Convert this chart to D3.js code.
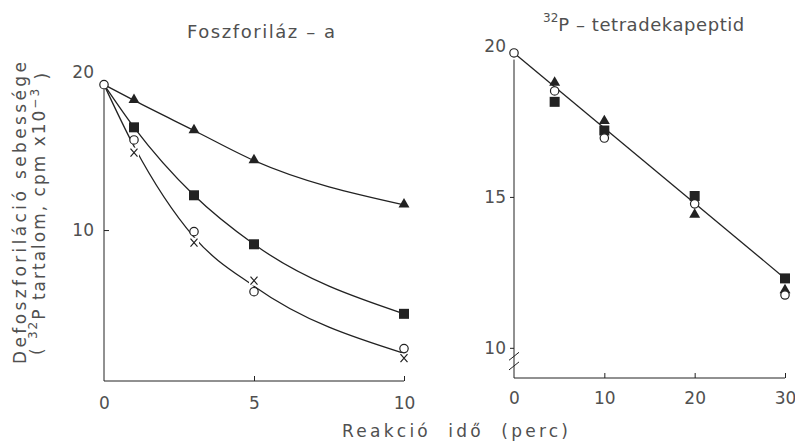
<!DOCTYPE html>
<html>
<head>
<meta charset="utf-8">
<script src="https://cdn.jsdelivr.net/npm/d3@7"></script>
<style>
  html, body { margin: 0; padding: 0; background: #fff; }
  svg { display: block; }
  text { font-family: "DejaVu Sans", "Open Sans", sans-serif; fill: #505050; }
</style>
</head>
<body>
<svg id="chart" width="795" height="443"></svg>
<script>
// Foszforiláz-a panel (perc / cpm x10^-3)
const leftTimes = [1, 3, 5, 10];
const leftStart = 19.2;
const leftTriangle = [18.2, 16.3, 14.4, 11.6];
const leftSquare = [16.5, 12.2, 9.1, 4.7];
const leftCircle = [15.7, 9.9, 6.1, 2.5];
const leftCross = [14.9, 9.2, 6.8, 1.9];
const leftXTicks = [0, 5, 10];
const leftYTicks = [10, 20];

// 32P-tetradekapeptid panel
const rightTimes = [4.5, 10, 20, 30];
const rightStart = 19.77;
const rightTriangle = [18.77, 17.5, 14.4, 11.9];
const rightSquare = [18.15, 17.2, 15.03, 12.3];
const rightCircle = [18.51, 16.95, 14.77, 11.75];
const rightFitTimes = [0, 30];
const rightFitValues = [19.77, 12.3];
const rightXTicks = [0, 10, 20, 30];
const rightYTicks = [10, 15, 20];

const INK = '#222';
const svg = d3.select('#chart');

function drawMarker(g, type, x, y) {
  if (type === 'triangle') {
    g.append('path')
      .attr('d', d3.symbol(d3.symbolTriangle, 52)())
      .attr('transform', `translate(${x},${y - 0.5})`)
      .attr('fill', INK);
  } else if (type === 'square') {
    g.append('rect')
      .attr('x', x - 5).attr('y', y - 5)
      .attr('width', 10).attr('height', 10)
      .attr('fill', INK);
  } else if (type === 'circle') {
    g.append('circle')
      .attr('cx', x).attr('cy', y).attr('r', 4.2)
      .attr('fill', '#fff').attr('stroke', INK).attr('stroke-width', 1.2);
  } else if (type === 'cross') {
    g.append('rect').attr('x', x - 5).attr('y', y - 5).attr('width', 10).attr('height', 10).attr('fill', '#fff');
    g.append('path')
      .attr('d', `M${x - 3.5},${y - 4}L${x + 3.5},${y + 4}M${x + 3.5},${y - 4}L${x - 3.5},${y + 4}`)
      .attr('stroke', INK).attr('stroke-width', 1.2).attr('fill', 'none');
  }
}

function styleAxis(g) {
  g.select('.domain').remove();
  g.selectAll('line').attr('stroke', INK).attr('stroke-width', 1);
  g.selectAll('text').attr('font-size', 17).attr('fill', '#505050').attr('font-family', null);
}

// ---------- left panel ----------
const xL = d3.scaleLinear().domain([0, 10]).range([104, 404]);
const yL = d3.scaleLinear().domain([0.45, 20]).range([381, 72]);
const gL = svg.append('g');

gL.append('line')
  .attr('x1', xL(0)).attr('x2', xL(10)).attr('y1', yL(0.45)).attr('y2', yL(0.45))
  .attr('stroke', INK).attr('stroke-width', 1);
gL.append('line')
  .attr('x1', xL(0)).attr('x2', xL(0)).attr('y1', yL(0.45)).attr('y2', yL(18.9))
  .attr('stroke', INK).attr('stroke-width', 1);

gL.append('g')
  .attr('transform', `translate(0,${yL(0.45)})`)
  .call(d3.axisBottom(xL).tickValues(leftXTicks).tickSizeInner(-5).tickSizeOuter(0).tickPadding(16))
  .call(styleAxis)
  .call(g => g.selectAll('.tick').filter(d => d === 0).select('line').remove());

gL.append('g')
  .attr('transform', `translate(${xL(0)},0)`)
  .call(d3.axisLeft(yL).tickValues(leftYTicks).tickSizeInner(-5).tickSizeOuter(0).tickPadding(10))
  .call(styleAxis)
  .call(g => g.selectAll('.tick').filter(d => d === 20).select('line').remove());

const lineL = d3.line().x(d => xL(d[0])).y(d => yL(d[1])).curve(d3.curveMonotoneX);
const withStart = (times, vals, start) => [[0, start]].concat(times.map((t, i) => [t, vals[i]]));
const leftMean = leftCircle.map((v, i) => (v + leftCross[i]) / 2);

[leftTriangle, leftSquare, leftMean].forEach(vals => {
  gL.append('path')
    .attr('d', lineL(withStart(leftTimes, vals, leftStart)))
    .attr('fill', 'none').attr('stroke', INK).attr('stroke-width', 1.3);
});

const leftSeries = [
  { type: 'cross', vals: leftCross },
  { type: 'circle', vals: leftCircle },
  { type: 'square', vals: leftSquare },
  { type: 'triangle', vals: leftTriangle }
];
leftSeries.forEach(s => s.vals.forEach((v, i) => drawMarker(gL, s.type, xL(leftTimes[i]), yL(v))));
drawMarker(gL, 'circle', xL(0), yL(leftStart));

gL.append('text')
  .attr('x', 261).attr('y', 32).attr('dy', '0.35em')
  .attr('text-anchor', 'middle').attr('font-size', 18)
  .attr('textLength', 148).attr('lengthAdjust', 'spacing')
  .text('Foszforiláz – a');

// ---------- right panel ----------
const xR = d3.scaleLinear().domain([0, 30]).range([514, 785]);
const yR = d3.scaleLinear().domain([9, 20]).range([378, 46]);
const gR = svg.append('g');

gR.append('line')
  .attr('x1', xR(0)).attr('x2', xR(30)).attr('y1', yR(9)).attr('y2', yR(9))
  .attr('stroke', INK).attr('stroke-width', 1);
gR.append('line')
  .attr('x1', xR(0)).attr('x2', xR(0)).attr('y1', yR(9)).attr('y2', yR(19.55))
  .attr('stroke', INK).attr('stroke-width', 1);
// axis break marks
[9.72, 9.4].forEach(v => {
  gR.append('line')
    .attr('x1', xR(0) - 5).attr('y1', yR(v) + 4)
    .attr('x2', xR(0) + 5).attr('y2', yR(v) - 4)
    .attr('stroke', INK).attr('stroke-width', 1);
});

gR.append('g')
  .attr('transform', `translate(0,${yR(9)})`)
  .call(d3.axisBottom(xR).tickValues(rightXTicks).tickSizeInner(-5).tickSizeOuter(0).tickPadding(14))
  .call(styleAxis)
  .call(g => g.selectAll('.tick').filter(d => d === 0).select('line').remove());

gR.append('g')
  .attr('transform', `translate(${xR(0)},0)`)
  .call(d3.axisLeft(yR).tickValues(rightYTicks).tickSizeInner(4).tickSizeOuter(0).tickPadding(4))
  .call(styleAxis)
  .call(g => g.selectAll('.tick').filter(d => d === 20).select('line').remove());

gR.append('path')
  .attr('d', d3.line().x(d => xR(d[0])).y(d => yR(d[1]))(rightFitTimes.map((t, i) => [t, rightFitValues[i]])))
  .attr('fill', 'none').attr('stroke', INK).attr('stroke-width', 1.3);

const rightSeries = [
  { type: 'square', vals: rightSquare },
  { type: 'triangle', vals: rightTriangle },
  { type: 'circle', vals: rightCircle }
];
rightSeries.forEach(s => s.vals.forEach((v, i) => drawMarker(gR, s.type, xR(rightTimes[i]), yR(v))));
drawMarker(gR, 'circle', xR(0), yR(rightStart));

const tR = gR.append('text')
  .attr('x', 543).attr('y', 26).attr('dy', '0.35em')
  .attr('font-size', 18);
tR.append('tspan').attr('font-size', 12).attr('dy', '-0.3em').text('32');
tR.append('tspan').attr('dy', '0.45em')
  .attr('textLength', 186).attr('lengthAdjust', 'spacing')
  .text('P – tetradekapeptid');

// ---------- shared axis titles ----------
svg.append('text')
  .attr('x', 455).attr('y', 431).attr('dy', '0.35em')
  .attr('text-anchor', 'middle').attr('font-size', 17)
  .attr('textLength', 226).attr('lengthAdjust', 'spacing')
  .style('white-space', 'pre')
  .text('Reakció  idő  (perc)');

const yt = svg.append('g').attr('transform', 'translate(0,213) rotate(-90)');
yt.append('text')
  .attr('x', 0).attr('y', 20).attr('dy', '0.35em')
  .attr('text-anchor', 'middle').attr('font-size', 17)
  .attr('textLength', 302).attr('lengthAdjust', 'spacing')
  .text('Defoszforiláció sebessége');
const yt2 = yt.append('text')
  .attr('x', 0).attr('y', 37).attr('dy', '0.35em')
  .attr('text-anchor', 'middle')
  .attr('font-size', 17).attr('letter-spacing', 2.0)
  .style('white-space', 'pre');
yt2.append('tspan').text('( ');
yt2.append('tspan').attr('font-size', 12).attr('dy', '-0.5em').text('32');
yt2.append('tspan').attr('dy', '0.5em').text('P tartalom, cpm x10');
yt2.append('tspan').attr('font-size', 12).attr('dy', '-0.5em').text('−3');
yt2.append('tspan').attr('dy', '0.5em').text(' )');
</script>
</body>
</html>
